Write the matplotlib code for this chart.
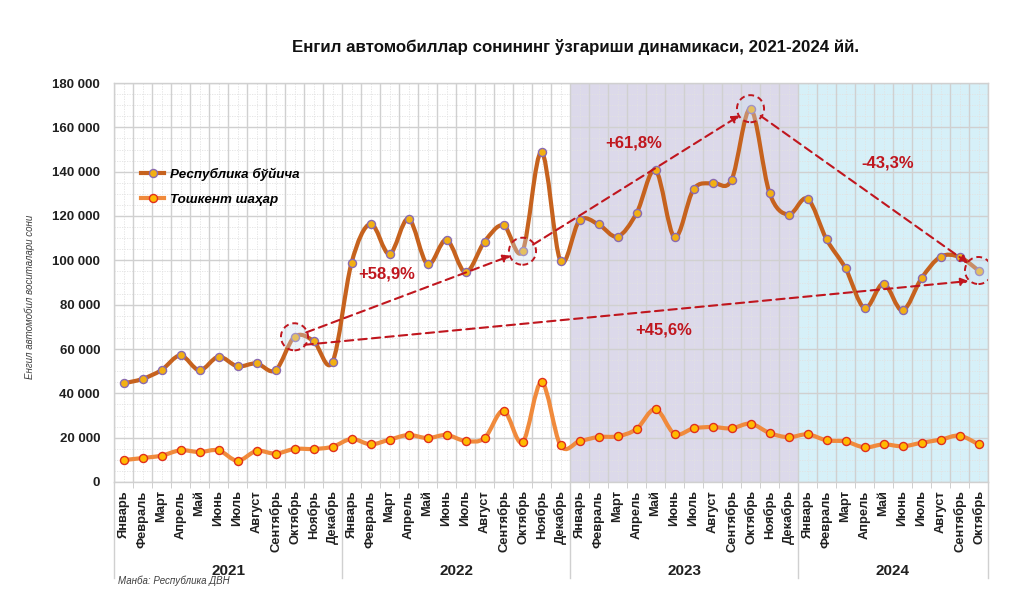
import matplotlib
matplotlib.use("Agg")
import matplotlib.pyplot as plt
import matplotlib.transforms as mtransforms
from matplotlib.path import Path
from matplotlib.patches import PathPatch
from matplotlib.lines import Line2D
import numpy as np

plt.rcParams['font.family'] = ['Liberation Sans', 'DejaVu Sans']

# ---------------- data ----------------
months = ["Январь", "Февраль", "Март", "Апрель", "Май", "Июнь", "Июль",
          "Август", "Сентябрь", "Октябрь", "Ноябрь", "Декабрь"]
years = ["2021", "2022", "2023", "2024"]
month_labels = months * 3 + months[:10]

republic = [44500, 46500, 50500, 57100, 50400, 56500, 52200, 53500, 50400, 65500, 63600, 54100,
            98800, 116500, 102800, 118800, 98200, 109300, 94600, 108400, 115800, 104100, 148900, 99700,
            118000, 116200, 110700, 121200, 140700, 110400, 132000, 134900, 136200, 168400, 130400, 120600,
            127800, 109500, 96400, 78500, 89500, 77400, 91900, 101600, 101500, 95400]
tashkent = [9900, 10800, 11900, 14300, 13500, 14300, 9600, 14000, 12800, 14900, 14900, 15900,
            19400, 17000, 19100, 21200, 19800, 21200, 18500, 19800, 32200, 17900, 45000, 16500,
            18400, 20300, 20600, 23900, 32900, 21700, 24200, 24800, 24200, 26300, 22100, 20200,
            21500, 18800, 18300, 15600, 17000, 16100, 17700, 19100, 20900, 17000]

series_names = ["Республика бўйича", "Тошкент шаҳар"]
pct_labels = ["+58,9%", "+61,8%", "-43,3%", "+45,6%"]
title = "Енгил автомобиллар сонининг ўзгариши динамикаси, 2021-2024 йй."
ylabel = "Енгил автомобил воситалари сони"
source = "Манба: Республика ДВН"

# highlighted months (October of each year)
oct_idx = [9, 21, 33, 45]

# ---------------- figure ----------------
fig = plt.figure(figsize=(10.24, 6.05), dpi=100)
ax = fig.add_axes([114/1024, 1-482/605, (988-114)/1024, (482-83)/605])

n = len(republic)
x = np.arange(n)
ax.set_xlim(-0.5, n-0.5)
ax.set_ylim(0, 180000)

# background shading for 2023 and 2024
ax.axvspan(23.5, 35.5, color='#DCD9EA', zorder=0, lw=0)
ax.axvspan(35.5, n-0.5, color='#D6F0F8', zorder=0, lw=0)

# grid
ax.set_axisbelow(True)
ax.set_yticks(np.arange(0, 180001, 20000))
ax.set_yticks(np.arange(0, 180001, 5000), minor=True)
ax.set_xticks(x)
ax.set_xticks(np.arange(-0.5, n, 1.0), minor=True)
ax.grid(True, which='major', axis='y', color='#D0D0D0', lw=1.0, zorder=0.5)
ax.grid(True, which='minor', axis='x', color='#D0D0D0', lw=1.0, zorder=0.5)
for xv in x:
    ax.axvline(xv, color='#E2E2E2', lw=0.6, ls=(0, (1.5, 1.5)), zorder=0.4)
for yv in np.arange(5000, 180000, 5000):
    if yv % 20000:
        ax.axhline(yv, color='#E2E2E2', lw=0.6, ls=(0, (1.5, 1.5)), zorder=0.4)

for s in ax.spines.values():
    s.set_color('#D0D0D0')
    s.set_linewidth(1.0)

ax.set_yticklabels([f"{v:,}".replace(",", " ") for v in range(0, 180001, 20000)],
                   fontsize=9.5, fontweight='bold', color='#202020')
ax.tick_params(axis='y', which='both', length=0, pad=10)
ax.set_xticklabels(month_labels, rotation=90, fontsize=9.3, fontweight='bold',
                   color='#202020', va='top', ha='center')
ax.tick_params(axis='x', which='major', length=0, pad=6)
ax.tick_params(axis='x', which='minor', length=4, color='#C8C8C8')


def smooth_path(xs, ys):
    pts = np.column_stack([xs, ys]).astype(float)
    verts = [pts[0]]
    codes = [Path.MOVETO]
    m = len(pts)
    for i in range(m-1):
        p0 = pts[i-1] if i > 0 else pts[i]
        p1 = pts[i]
        p2 = pts[i+1]
        p3 = pts[i+2] if i+2 < m else pts[i+1]
        c1 = p1 + (p2 - p0) / 6.0
        c2 = p2 - (p3 - p1) / 6.0
        verts += [c1, c2, p2]
        codes += [Path.CURVE4]*3
    return Path(verts, codes)


rep_color = '#C6621E'
tash_color = '#F08A3C'
ax.add_patch(PathPatch(smooth_path(x, republic), fill=False, ec=rep_color, lw=3.0,
                       zorder=3, capstyle='round', joinstyle='round'))
ax.add_patch(PathPatch(smooth_path(x, tashkent), fill=False, ec=tash_color, lw=3.0,
                       zorder=3, capstyle='round', joinstyle='round'))
ax.plot(x, republic, ls='none', marker='o', ms=5.8, mfc='#F2B012', mec='#8A6AB0',
        mew=1.0, zorder=4)
ax.plot(x, tashkent, ls='none', marker='o', ms=5.8, mfc='#FFBA00', mec='#E0301E',
        mew=1.0, zorder=4)

# dashed highlight circles around October values
red = '#C0161E'
ax.scatter([x[i] for i in oct_idx], [republic[i] for i in oct_idx], s=380,
           facecolor=(0.80, 0.88, 0.94, 0.35), edgecolor=red, linewidths=1.4,
           linestyle=(0, (3, 2)), zorder=5)

arrow_kw = dict(arrowstyle='-|>', color=red, lw=1.5, linestyle=(0, (4, 2.5)),
                mutation_scale=11)


def arrow(i0, i1, shrinkA=9, shrinkB=9, offA=(0, 0), offB=(0, 0)):
    tA = mtransforms.offset_copy(ax.transData, fig=fig, x=offA[0], y=offA[1], units='dots')
    tB = mtransforms.offset_copy(ax.transData, fig=fig, x=offB[0], y=offB[1], units='dots')
    ax.annotate("", xy=(x[i1], republic[i1]), xycoords=tB,
                xytext=(x[i0], republic[i0]), textcoords=tA,
                arrowprops=dict(shrinkA=shrinkA, shrinkB=shrinkB, **arrow_kw), zorder=6)


arrow(oct_idx[0], oct_idx[1])
arrow(oct_idx[1], oct_idx[2])
arrow(oct_idx[2], oct_idx[3])
arrow(oct_idx[0], oct_idx[3], shrinkA=0, shrinkB=0, offA=(10, -8), offB=(-10, -10.5))

pct_pos = [(13.87, 94000), (26.87, 152900), (40.21, 144100), (28.43, 68600)]
for lab, (px, py) in zip(pct_labels, pct_pos):
    ax.text(px, py, lab, color=red, fontsize=12, fontweight='bold',
            ha='center', va='center', zorder=7)

# legend
handles = [Line2D([], [], color=rep_color, lw=3, marker='o', ms=5.8, mfc='#F2B012', mec='#8A6AB0'),
           Line2D([], [], color=tash_color, lw=3, marker='o', ms=5.8, mfc='#FFBA00', mec='#E0301E')]
ax.legend(handles, series_names, loc='upper left', bbox_to_anchor=(0.017, 0.818),
          frameon=False, prop=dict(family='Liberation Sans', weight='bold', style='italic', size=9.6),
          handlelength=1.75, handletextpad=0.4, labelspacing=0.95)

# year groups below the axis
blend = mtransforms.blended_transform_factory(ax.transData, ax.transAxes)
bottom_frac = (482-578)/399
for k in range(len(years)+1):
    xb = min(-0.5 + 12*k, n-0.5)
    ax.plot([xb, xb], [0, bottom_frac], transform=blend, color='#D0D0D0', lw=1.0,
            clip_on=False, zorder=1)
for k, yr in enumerate(years):
    x0 = -0.5 + 12*k
    x1 = min(x0 + 12, n-0.5)
    ax.text((x0+x1)/2, (482-571)/399, yr, transform=blend, ha='center', va='center',
            fontsize=11, fontweight='bold', color='#202020')

fig.text(576/1024, 1-47/605, title, ha='center', va='center', fontsize=12.2,
         fontweight='bold', color='#111111')
fig.text(30/1024, 1-297/605, ylabel, rotation=90, ha='center', va='center',
         fontsize=7, style='italic', color='#404040')
fig.text(118/1024, 1-581/605, source, ha='left', va='center', fontsize=7,
         style='italic', color='#404040')

fig.savefig("out.png", dpi=100)
